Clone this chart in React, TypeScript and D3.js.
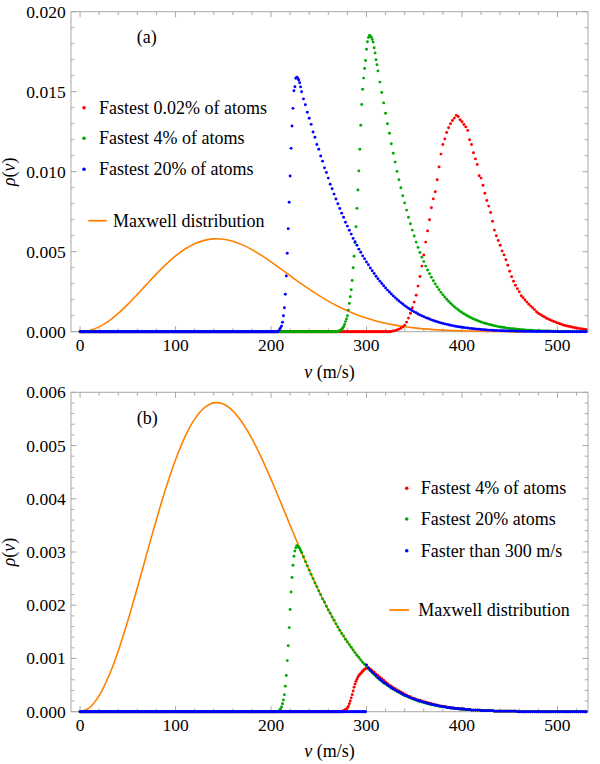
import * as d3 from "d3";

// every ρ value below is in units of 1e-5 (m/s)^-1
const UNIT = 1e-5;

// Maxwell distribution, v = 0, 10, ..., 530 m/s
const maxwell = [
  0, 7.7, 30.3, 66.5, 114.2, 170.7, 233.0, 297.6, 361.2, 420.7,
  473.3, 516.8, 549.6, 570.8, 580.1, 577.9, 565.1, 542.7, 512.9, 476.7,
  436.6, 393.9, 350.3, 307.3, 265.9, 227.0, 191.3, 159.2, 130.9, 106.2,
  85.2, 67.5, 52.8, 40.9, 31.3, 23.7, 17.7, 13.1, 9.56, 6.92,
  4.94, 3.51, 2.48, 1.69, 1.16, 0.78, 0.52, 0.35, 0.23, 0.15,
  0.095, 0.06, 0.04, 0.03,
];

// ---- panel (a) ----
// fastest 0.02 %, v = 326, 328, ..., 530
const redA = [
  2, 4, 7, 11, 16, 22, 30, 40, 60, 85,
  115, 150, 185, 228, 285, 345, 410, 480, 560, 630,
  700, 775, 830, 875, 950, 1030, 1110, 1170, 1205, 1245,
  1275, 1300, 1320, 1335, 1352, 1345, 1325, 1312, 1295, 1280,
  1258, 1200, 1170, 1118, 1080, 1045, 975, 960, 915, 865,
  820, 785, 745, 690, 635, 600, 570, 540, 505, 480,
  450, 415, 378, 344, 315, 290, 268, 250, 225, 212,
  198, 185, 172, 160, 150, 138, 125, 115, 108, 100,
  93, 86, 80, 75, 69, 64, 60, 55, 51, 47,
  42, 39, 36, 33, 31, 28, 25, 23, 21, 19,
  17, 15, 14,
];
// fastest 4 %, v = 270 ... 311 (1 m/s bins)
const greenARise = [
  2, 4, 6, 9, 15, 22, 31, 45, 63, 80,
  100, 135, 177, 218, 262, 320, 400, 472, 556, 656,
  771, 886, 1005, 1140, 1290, 1420, 1515, 1585, 1645, 1695,
  1765, 1812, 1838, 1852, 1848, 1840, 1826, 1810, 1775, 1742,
  1700, 1668,
];
// fastest 4 %, v = 312, 314, ..., 530
const greenATail = [
  1630, 1560, 1495, 1430, 1365, 1300, 1240, 1175, 1115, 1060,
  1002, 950, 900, 850, 805, 760, 715, 675, 635, 598,
  560, 527, 495, 466, 438, 410, 386, 362, 340, 318,
  298, 280, 262, 246, 231, 217, 203, 190, 178, 167,
  156, 146, 137, 128, 120, 112, 105, 98, 92, 86,
  80, 75, 70, 65, 61, 57, 53, 50, 46, 43,
  40, 37, 35, 32, 30, 28, 26, 24, 22, 21,
  19, 18, 17, 15, 14, 13, 12, 11, 10, 9,
  9, 8, 7, 7, 6, 6, 5, 5, 4, 4,
  4, 3, 3, 3, 3, 2, 2, 2, 2, 2,
  2, 1, 1, 1, 1, 1, 1, 1, 1, 1,
];
// fastest 20 %, v = 208 ... 231 (1 m/s bins)
const blueARise = [
  5, 14, 24, 35, 59, 100, 150, 234, 348, 490,
  644, 809, 973, 1146, 1286, 1396, 1506, 1531, 1584, 1590,
  1584, 1573, 1556, 1530,
];
// fastest 20 %, v = 232, 234, ..., 530
const blueATail = [
  1500, 1455, 1418, 1372, 1334, 1296, 1248, 1215, 1170, 1140,
  1098, 1066, 1024, 995, 960, 922, 893, 860, 829, 800,
  770, 741, 715, 684, 660, 634, 610, 583, 562, 540,
  516, 497, 474, 456, 436, 418, 398, 381, 364, 347,
  331, 316, 301, 287, 273, 260, 248, 236, 224, 213,
  202, 192, 182, 173, 163, 155, 147, 139, 131, 124,
  118, 111, 105, 99, 94, 88, 84, 79, 74, 70,
  66, 62, 58, 55, 52, 49, 46, 43, 40, 38,
  36, 33, 31, 29, 28, 26, 24, 23, 21, 20,
  18, 17, 16, 15, 14, 13, 12, 11, 10, 10,
  9, 8, 8, 7, 7, 6, 6, 5, 5, 4,
  4, 4, 3, 3, 3, 3, 2, 2, 2, 2,
  2, 1, 1, 1, 1, 1, 1, 1, 1, 1,
  1, 1, 0, 1, 0, 0, 0, 0, 0, 0,
  0, 0, 0, 0, 0, 0, 0, 0, 0, 0,
];

// ---- panel (b) ----
// fastest 4 %, v = 274 ... 305 (1 m/s bins)
const redBRise = [
  0, 1, 2, 3, 4, 5, 7, 10, 15, 20,
  26, 32, 39, 46, 52, 57, 61, 65, 68, 70,
  72, 74, 76, 78, 80, 81, 82, 83, 82, 81,
  80, 78,
];
// fastest 4 %, v = 306, 308, ..., 530
const redBTail = [
  77, 74, 71, 68, 65, 62, 59, 56, 53, 50,
  48, 45, 43, 41, 39, 37, 35, 33, 31, 29,
  28, 26, 25, 23, 22, 21, 20, 19, 18, 17,
  16, 15, 14, 13, 12, 11, 11, 10, 10, 9,
  8, 8, 7, 7, 6, 6, 5, 5, 5, 4,
  4, 4, 3, 3, 3, 3, 3, 2, 2, 2,
  2, 2, 2, 2, 1, 1, 1, 1, 1, 1,
  1, 1, 1, 1, 1, 1, 1, 0, 0, 0,
  0, 0, 0, 0, 0, 0, 0, 0, 0, 0,
  0, 0, 0, 0, 0, 0, 0, 0, 0, 0,
  0, 0, 0, 0, 0, 0, 0, 0, 0, 0,
  0, 0, 0,
];
// fastest 20 %, v = 208 ... 231 (1 m/s bins)
const greenBRise = [
  1, 3, 5, 9, 15, 22, 32, 48, 68, 96,
  124, 158, 192, 225, 252, 275, 292, 302, 308, 312,
  311, 309, 307, 303,
];
// fastest 20 %, v = 232, 234, ..., 530
const greenBTail = [
  299, 291, 282, 274, 266, 258, 250, 242, 235, 227,
  220, 212, 206, 198, 191, 185, 178, 172, 165, 159,
  153, 147, 142, 136, 131, 126, 121, 116, 111, 106,
  102, 97, 93, 89, 85, 80, 77, 73, 70, 66,
  63, 60, 57, 54, 52, 49, 47, 44, 42, 40,
  38, 36, 34, 32, 30, 29, 27, 26, 24, 23,
  22, 20, 19, 18, 17, 16, 15, 14, 13, 13,
  12, 11, 10, 10, 9, 9, 8, 8, 7, 7,
  6, 6, 5, 5, 5, 4, 4, 4, 4, 3,
  3, 3, 3, 3, 2, 2, 2, 2, 2, 2,
  2, 1, 1, 1, 1, 1, 1, 1, 1, 1,
  1, 1, 1, 0, 0, 0, 0, 0, 0, 0,
  0, 0, 0, 0, 0, 0, 0, 0, 0, 0,
  0, 0, 0, 0, 0, 0, 0, 0, 0, 0,
  0, 0, 0, 0, 0, 0, 0, 0, 0, 0,
];
// faster than 300 m/s, v = 300, 302, ..., 530
const blueB = [
  88, 82, 78, 74, 71, 68, 64, 61, 58, 55,
  53, 50, 48, 45, 43, 41, 39, 37, 35, 33,
  31, 30, 28, 26, 25, 24, 22, 21, 20, 19,
  18, 17, 16, 15, 14, 13, 12, 12, 11, 10,
  10, 9, 8, 8, 7, 7, 6, 6, 6, 5,
  5, 5, 4, 4, 4, 3, 3, 3, 3, 3,
  2, 2, 2, 2, 2, 2, 2, 1, 1, 1,
  1, 1, 1, 1, 1, 1, 1, 1, 1, 0,
  0, 0, 0, 0, 0, 0, 0, 0, 0, 0,
  0, 0, 0, 0, 0, 0, 0, 0, 0, 0,
  0, 0, 0, 0, 0, 0, 0, 0, 0, 0,
  0, 0, 0, 0, 0, 0,
];

const RED = "#ff0000";
const GREEN = "#00a800";
const BLUE = "#0000ff";
const ORANGE = "#ff8000";
const FRAME = "#a8a8a8";
const FONT = "Liberation Serif, DejaVu Serif, serif";

type Pt = [number, number];

const bins = (start: number, step: number, values: number[]): Pt[] =>
  values.map((r, i) => [start + i * step, r * UNIT] as Pt);

// bins below the cut-off are empty (ρ = 0)
const empty = (end: number): Pt[] => d3.range(0, end).map((v) => [v, 0] as Pt);

interface Series {
  color: string;
  points: Pt[];
}

interface LegendRow {
  kind: "dot" | "line";
  color: string;
  text: string;
  y: number;
}

interface Panel {
  id: string;
  top: number;
  bottom: number;
  yMax: number;
  yMajor: number;
  yMinor: number;
  tag: string;
  tagX: number;
  tagY: number;
  xTitleY: number;
  series: Series[];
  legend: LegendRow[];
  dotX: number;
  textX: number;
  lineX1: number;
  lineX2: number;
  lineTextX: number;
}

const panels: Panel[] = [
  {
    id: "a",
    top: 11.7,
    bottom: 331.7,
    yMax: 0.02,
    yMajor: 0.005,
    yMinor: 0.001,
    tag: "(a)",
    tagX: 136.7,
    tagY: 42.7,
    xTitleY: 377.5,
    series: [
      { color: RED, points: [...empty(326), ...bins(326, 2, redA)] },
      {
        color: GREEN,
        points: [...empty(270), ...bins(270, 1, greenARise), ...bins(312, 2, greenATail)],
      },
      {
        color: BLUE,
        points: [...empty(208), ...bins(208, 1, blueARise), ...bins(232, 2, blueATail)],
      },
    ],
    legend: [
      { kind: "dot", color: RED, text: "Fastest 0.02% of atoms", y: 107.7 },
      { kind: "dot", color: GREEN, text: "Fastest 4% of atoms", y: 138.3 },
      { kind: "dot", color: BLUE, text: "Fastest 20% of atoms", y: 169.3 },
      { kind: "line", color: ORANGE, text: "Maxwell distribution", y: 220.7 },
    ],
    dotX: 84,
    textX: 99,
    lineX1: 88.3,
    lineX2: 106.7,
    lineTextX: 113,
  },
  {
    id: "b",
    top: 392.3,
    bottom: 711.7,
    yMax: 0.006,
    yMajor: 0.001,
    yMinor: 0.0002,
    tag: "(b)",
    tagX: 136.7,
    tagY: 423.5,
    xTitleY: 757,
    series: [
      {
        color: RED,
        points: [...empty(274), ...bins(274, 1, redBRise), ...bins(306, 2, redBTail)],
      },
      {
        color: GREEN,
        points: [...empty(208), ...bins(208, 1, greenBRise), ...bins(232, 2, greenBTail)],
      },
      { color: BLUE, points: [...empty(300), ...bins(300, 2, blueB)] },
    ],
    legend: [
      { kind: "dot", color: RED, text: "Fastest 4% of atoms", y: 488.3 },
      { kind: "dot", color: GREEN, text: "Fastest 20% atoms", y: 519 },
      { kind: "dot", color: BLUE, text: "Faster than 300 m/s", y: 550.7 },
      { kind: "line", color: ORANGE, text: "Maxwell distribution", y: 610 },
    ],
    dotX: 406.7,
    textX: 420.7,
    lineX1: 389.3,
    lineX2: 409,
    lineTextX: 418.3,
  },
];

const LEFT = 71;
const RIGHT = 588;
const x = d3.scaleLinear().domain([-9.5, 532]).range([LEFT, RIGHT]);
const maxwellPts = bins(0, 10, maxwell);
const xMajor = d3.range(0, 501, 100);
const xMinor = d3.range(0, 531, 20).filter((v) => v % 100 !== 0);

function PanelView({ p }: { p: Panel }) {
  const y = d3.scaleLinear().domain([0, p.yMax]).range([p.bottom, p.top]);
  const line = d3
    .line<Pt>()
    .x((d) => x(d[0]))
    .y((d) => y(d[1]))
    .curve(d3.curveCatmullRom);
  const eps = p.yMinor / 10;
  const yMajor = d3.range(0, p.yMax + eps, p.yMajor);
  const yMinor = d3
    .range(0, p.yMax + eps, p.yMinor)
    .filter((t) => Math.abs(t / p.yMajor - Math.round(t / p.yMajor)) > 1e-6);
  const fmt = d3.format(".3f");
  const clipId = `clip-${p.id}`;
  const major = 5.5;
  const minor = 3.3;
  const midY = (p.top + p.bottom) / 2;

  return (
    <g>
      <defs>
        <clipPath id={clipId}>
          <rect x={LEFT} y={p.top} width={RIGHT - LEFT} height={p.bottom - p.top + 3} />
        </clipPath>
      </defs>

      {/* frame */}
      <rect
        x={LEFT}
        y={p.top}
        width={RIGHT - LEFT}
        height={p.bottom - p.top}
        fill="none"
        stroke={FRAME}
        strokeWidth={1}
      />
      <g stroke={FRAME} strokeWidth={1}>
        {[...xMajor.map((v) => [v, major]), ...xMinor.map((v) => [v, minor])].map(([v, len]) => (
          <g key={`xt${v}`}>
            <line x1={x(v)} x2={x(v)} y1={p.bottom} y2={p.bottom - len} />
            <line x1={x(v)} x2={x(v)} y1={p.top} y2={p.top + len} />
          </g>
        ))}
        {[...yMajor.map((t) => [t, major]), ...yMinor.map((t) => [t, minor])].map(([t, len]) => (
          <g key={`yt${t}`}>
            <line x1={LEFT} x2={LEFT + len} y1={y(t)} y2={y(t)} />
            <line x1={RIGHT} x2={RIGHT - len} y1={y(t)} y2={y(t)} />
          </g>
        ))}
      </g>

      {/* tick labels */}
      <g style={{ fontFamily: FONT }} fontSize={17.5} fill="#000">
        {xMajor.map((v) => (
          <text key={`xl${v}`} x={x(v)} y={p.bottom + 19} textAnchor="middle">
            {v}
          </text>
        ))}
        {yMajor.map((t) => (
          <text key={`yl${t}`} x={65.7} y={y(t) + 6} textAnchor="end">
            {fmt(t)}
          </text>
        ))}
      </g>

      {/* axis titles and panel tag */}
      <g style={{ fontFamily: FONT }} fontSize={18} fill="#000">
        <text x={(LEFT + RIGHT) / 2} y={p.xTitleY} textAnchor="middle">
          <tspan fontStyle="italic">v</tspan> (m/s)
        </text>
        <text
          x={15}
          y={midY}
          textAnchor="middle"
          transform={`rotate(-90, 15, ${midY})`}
        >
          <tspan fontStyle="italic">ρ</tspan>(<tspan fontStyle="italic">v</tspan>)
        </text>
        <text x={p.tagX} y={p.tagY}>
          {p.tag}
        </text>
      </g>

      {/* data */}
      <g clipPath={`url(#${clipId})`}>
        <path d={line(maxwellPts) ?? ""} fill="none" stroke={ORANGE} strokeWidth={1.6} />
        {p.series.map((s, si) => (
          <g key={si} fill={s.color}>
            {s.points.map((d, i) => (
              <circle key={i} cx={x(d[0])} cy={y(d[1])} r={1.45} />
            ))}
          </g>
        ))}
      </g>

      {/* legend */}
      <g style={{ fontFamily: FONT }} fontSize={18} fill="#000">
        {p.legend.map((row) =>
          row.kind === "dot" ? (
            <g key={row.text}>
              <circle cx={p.dotX} cy={row.y} r={1.8} fill={row.color} />
              <text x={p.textX} y={row.y + 6}>
                {row.text}
              </text>
            </g>
          ) : (
            <g key={row.text}>
              <line
                x1={p.lineX1}
                x2={p.lineX2}
                y1={row.y}
                y2={row.y}
                stroke={row.color}
                strokeWidth={1.8}
              />
              <text x={p.lineTextX} y={row.y + 6}>
                {row.text}
              </text>
            </g>
          ),
        )}
      </g>
    </g>
  );
}

export default function App() {
  return (
    <svg
      width={600}
      height={764}
      viewBox="0 0 600 764"
      style={{
        position: "absolute",
        left: 0,
        top: 0,
        background: "#fff",
        display: "block",
        fontFamily: FONT,
      }}
    >
      {panels.map((p) => (
        <PanelView key={p.id} p={p} />
      ))}
    </svg>
  );
}
